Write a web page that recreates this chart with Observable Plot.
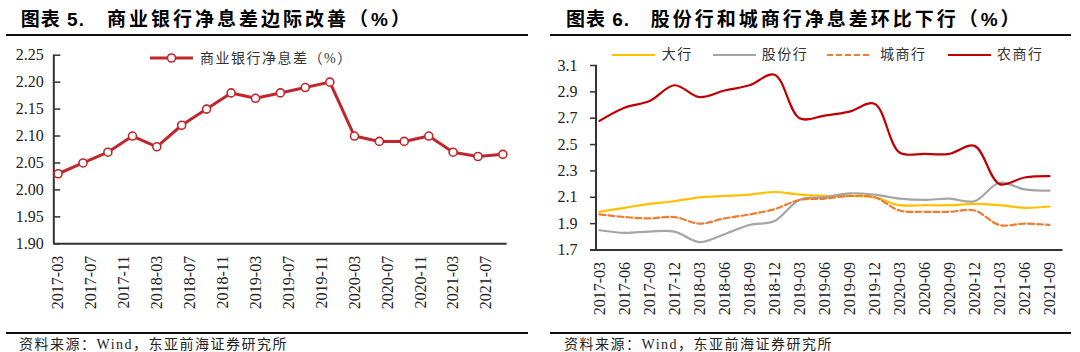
<!DOCTYPE html>
<html><head><meta charset="utf-8">
<script src="https://cdn.jsdelivr.net/npm/d3@7"></script>
<script src="https://cdn.jsdelivr.net/npm/@observablehq/plot@0.6"></script>
<style>
body{margin:0;background:#fff;}
#root{position:relative;width:1080px;height:352px;overflow:hidden;background:#fff;}
#root svg.plot{position:absolute;top:0;}
.t{position:absolute;font-family:"Liberation Sans","Noto Sans CJK SC",sans-serif;font-weight:bold;font-size:19px;letter-spacing:3px;white-space:pre;color:#000;line-height:1;}
.rule{position:absolute;height:2px;background:#111;}
.note{position:absolute;font-family:"Liberation Serif","Noto Sans CJK SC",serif;font-size:14px;letter-spacing:1.5px;color:#222;white-space:pre;line-height:1;}
.leg{position:absolute;font-family:"Liberation Serif","Noto Sans CJK SC",serif;font-size:14px;letter-spacing:1.5px;color:#333;white-space:pre;line-height:1;}
.sw{position:absolute;overflow:visible;}
</style></head><body><div id="root"></div>
<script>
// ---------- data ----------
const quarters = ["2017-03","2017-06","2017-09","2017-12","2018-03","2018-06","2018-09","2018-12",
  "2019-03","2019-06","2019-09","2019-12","2020-03","2020-06","2020-09","2020-12","2021-03","2021-06","2021-09"];
// 图表5 商业银行净息差（%）
const nimCommercial = [2.03,2.05,2.07,2.10,2.08,2.12,2.15,2.18,2.17,2.18,2.19,2.20,2.10,2.09,2.09,2.10,2.07,2.062,2.066];
const leftYTicks = [1.90,1.95,2.00,2.05,2.10,2.15,2.20,2.25];
const leftXTicks = ["2017-03","2017-07","2017-11","2018-03","2018-07","2018-11","2019-03","2019-07",
  "2019-11","2020-03","2020-07","2020-11","2021-03","2021-07"];
// 图表6
const seriesNames = ["大行","股份行","城商行","农商行"];
const nimBig   = [1.99,2.02,2.05,2.07,2.10,2.11,2.12,2.14,2.12,2.11,2.11,2.10,2.04,2.04,2.04,2.05,2.04,2.02,2.03];
const nimJoint = [1.85,1.83,1.84,1.84,1.76,1.82,1.89,1.92,2.08,2.10,2.13,2.12,2.09,2.08,2.09,2.07,2.21,2.16,2.15];
const nimCity  = [1.97,1.95,1.94,1.95,1.90,1.94,1.97,2.01,2.08,2.09,2.11,2.10,2.00,1.99,1.99,2.00,1.89,1.90,1.89];
const nimRural = [2.68,2.78,2.83,2.95,2.86,2.91,2.95,3.03,2.70,2.72,2.75,2.81,2.44,2.43,2.43,2.49,2.20,2.25,2.26];
const rightYTicks = [1.7,1.9,2.1,2.3,2.5,2.7,2.9,3.1];
const colors = ["#FFC000","#A5A5A5","#ED7D31","#C00000"];
const dashes = [null,null,"6,3",null];

const root = document.getElementById("root");
const parse = d3.utcParse("%Y-%m");

// ---------- left chart ----------
const leftData = quarters.map((q,i)=>({date:parse(q), v:nimCommercial[i]}));
const xDom = [new Date(Date.UTC(2017,1,13)), new Date(Date.UTC(2021,8,17))];
const L = {mt:54.7, mb:108.7, ml:53.3, mr:33.3};
const lFrameW = 540 - L.ml - L.mr;
const left = Plot.plot({
  width:540, height:352, marginTop:L.mt, marginBottom:L.mb, marginLeft:L.ml, marginRight:L.mr,
  style:{fontFamily:'"Liberation Serif", serif', fontSize:"16px", color:"#222", background:"transparent", overflow:"visible"},
  x:{type:"utc", domain:xDom},
  y:{domain:[1.90,2.25]},
  marks:[
    Plot.axisY({ticks:leftYTicks, tickSize:0, tickPadding:10, tickFormat:d3.format(".2f"), label:null, fontSize:16}),
    Plot.axisX({ticks:leftXTicks.map(parse), tickSize:0, tickPadding:12, tickRotate:-90, tickFormat:d3.utcFormat("%Y-%m"), label:null, fontSize:16}),
    Plot.tickY(leftYTicks, {y:d=>d, insetRight:lFrameW-7, stroke:"#333", strokeWidth:1.5}),
    Plot.ruleX([xDom[0]], {stroke:"#333", strokeWidth:2}),
    Plot.ruleY([1.90], {stroke:"#333", strokeWidth:2}),
    Plot.line(leftData, {x:"date", y:"v", stroke:"#C0272D", strokeWidth:3}),
    Plot.dot(leftData, {x:"date", y:"v", r:4, fill:"white", stroke:"#C0272D", strokeWidth:1.6})
  ]
});
left.classList.add("plot");
left.style.left = "0px";
root.appendChild(left);

// ---------- right chart ----------
const allSeries = [nimBig, nimJoint, nimCity, nimRural];
const R = {mt:65, mb:102.5, ml:50, mr:17.5};
const rFrameW = 540 - R.ml - R.mr;
const rightMarks = [
  Plot.axisY({ticks:rightYTicks, tickSize:0, tickPadding:13, tickFormat:d3.format(".1f"), label:null, fontSize:16}),
  Plot.axisX({ticks:quarters, tickSize:0, tickPadding:12, tickRotate:-90, label:null, fontSize:16}),
  Plot.tickY(rightYTicks, {y:d=>d, insetRight:rFrameW-7, stroke:"#333", strokeWidth:1.5}),
  Plot.ruleX([quarters[0]], {dx:-3.5, stroke:"#333", strokeWidth:2}),
  Plot.ruleY([1.7], {stroke:"#333", strokeWidth:2})
];
allSeries.forEach((vals,k)=>{
  const data = quarters.map((q,i)=>({q, v:vals[i]}));
  rightMarks.push(Plot.line(data, {x:"q", y:"v", stroke:colors[k], strokeWidth:2.2, curve:"catmull-rom",
    strokeDasharray: dashes[k] || undefined}));
});
const right = Plot.plot({
  width:540, height:352, marginTop:R.mt, marginBottom:R.mb, marginLeft:R.ml, marginRight:R.mr,
  style:{fontFamily:'"Liberation Serif", serif', fontSize:"16px", color:"#222", background:"transparent", overflow:"visible"},
  x:{type:"point", domain:quarters, padding:0, insetLeft:3.5, insetRight:8},
  y:{domain:[1.7,3.1]},
  marks:rightMarks
});
right.classList.add("plot");
right.style.left = "540px";
root.appendChild(right);

// ---------- titles, rules, notes, legends ----------
function el(cls, text, x, y, extra){
  const d = document.createElement("div");
  d.className = cls; d.textContent = text;
  d.style.left = x+"px"; d.style.top = y+"px";
  if (extra) Object.assign(d.style, extra);
  root.appendChild(d); return d;
}
el("t", "图表 5.", 20.8, 9.5, {letterSpacing:"1px"});
el("t", "商业银行净息差边际改善（%）", 107, 9.5);
el("t", "图表 6.", 566, 9.5, {letterSpacing:"1px"});
el("t", "股份行和城商行净息差环比下行（%）", 650.7, 9.5);
const r1 = el("rule","",6,33.5,{width:(528-6)+"px"});
const r2 = el("rule","",550,33.5,{width:(1071-550)+"px"});
const r3 = el("rule","",6,331.5,{width:(528-6)+"px"});
const r4 = el("rule","",550,331.5,{width:(1071-550)+"px"});
el("note","资料来源：Wind，东亚前海证券研究所",19,337.5);
el("note","资料来源：Wind，东亚前海证券研究所",564,337.5);

const NS = "http://www.w3.org/2000/svg";
function swatch(x, y, w, color, width, dash, dot){
  const s = document.createElementNS(NS,"svg");
  s.setAttribute("class","sw"); s.setAttribute("width", w); s.setAttribute("height", 12);
  s.style.left = x+"px"; s.style.top = (y-6)+"px";
  const ln = document.createElementNS(NS,"line");
  ln.setAttribute("x1",0); ln.setAttribute("x2",w); ln.setAttribute("y1",6); ln.setAttribute("y2",6);
  ln.setAttribute("stroke",color); ln.setAttribute("stroke-width",width);
  if (dash) ln.setAttribute("stroke-dasharray",dash);
  s.appendChild(ln);
  if (dot){
    const c = document.createElementNS(NS,"circle");
    c.setAttribute("cx",w/2); c.setAttribute("cy",6); c.setAttribute("r",4);
    c.setAttribute("fill","white"); c.setAttribute("stroke",color); c.setAttribute("stroke-width",1.6);
    s.appendChild(c);
  }
  root.appendChild(s);
}
swatch(150, 58.3, 43, "#C0272D", 3, null, true);
el("leg","商业银行净息差（%）",200,52);
const legX = [611.7, 713, 826.7, 948];
const legT = [661.7, 761.7, 880, 997];
seriesNames.forEach((n,k)=>{
  swatch(legX[k], 55, 43, colors[k], 2.2, dashes[k], false);
  el("leg", n, legT[k], 48);
});
</script></body></html>
